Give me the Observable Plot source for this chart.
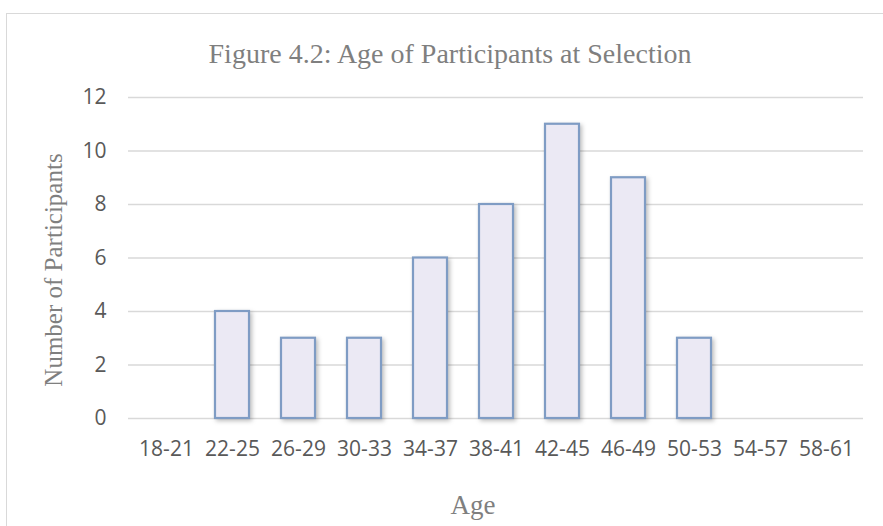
<!DOCTYPE html>
<html>
<head>
<meta charset="utf-8">
<script src="https://cdn.jsdelivr.net/npm/d3@7"></script>
<script src="https://cdn.jsdelivr.net/npm/@observablehq/plot@0.6"></script>
<style>
  html, body { margin: 0; padding: 0; background: #fff; }
  #wrap { position: relative; width: 883px; height: 526px; overflow: hidden; }
  #frame { position: absolute; left: 6px; top: 13px; width: 900px; height: 540px; border: 1px solid #d9d9d9; box-sizing: border-box; }
  .lbl { position: absolute; font-family: "Liberation Serif", "Times New Roman", serif; color: #7f7f7f; white-space: nowrap; line-height: 1; }
  #title { left: 0; width: 900px; top: 40px; text-align: center; font-size: 28px; }
  #ylab { left: 53px; top: 270px; font-size: 25px; transform: translate(-50%, -50%) rotate(-90deg); }
  #xlab { left: 473px; top: 492px; font-size: 27px; transform: translate(-50%, 0); }
  #chart { position: absolute; left: 0; top: 0; }
</style>
</head>
<body>
<div id="wrap">
  <div id="frame"></div>
  <div id="chart"></div>
  <div class="lbl" id="title">Figure 4.2: Age of Participants at Selection</div>
  <div class="lbl" id="ylab">Number of Participants</div>
  <div class="lbl" id="xlab">Age</div>
</div>
<script>
const ageGroups = ["18-21","22-25","26-29","30-33","34-37","38-41","42-45","46-49","50-53","54-57","58-61"];
const participants = [0, 4, 3, 3, 6, 8, 11, 9, 3, 0, 0];
const yTicks = [0, 2, 4, 6, 8, 10, 12];

const data = ageGroups.map((g, i) => ({group: g, count: participants[i]}));

const plot = Plot.plot({
  width: 883,
  height: 526,
  marginLeft: 128,
  marginRight: 20,
  marginTop: 97,
  marginBottom: 108,
  style: {background: "transparent", fontFamily: "'Open Sans', sans-serif", fontSize: "21px", color: "#595959", overflow: "visible"},
  x: {domain: ageGroups, paddingInner: 0.49, paddingOuter: 0.245, label: null, tickSize: 0, tickPadding: 23},
  y: {domain: [0, 12], ticks: yTicks, label: null, tickSize: 0, tickPadding: 22, tickFormat: d3.format("d")},
  marks: [
    Plot.ruleY(yTicks, {stroke: "#d9d9d9", strokeWidth: 1.3}),
    Plot.barY(data.filter(d => d.count > 0), {x: "group", y: "count", fill: "#ebe9f4", stroke: "#7f9cc4", strokeWidth: 2.2})
  ]
});
plot.querySelectorAll("g[aria-label='bar'] rect").forEach(r => r.style.filter = "drop-shadow(2px 2px 2px rgba(0,0,0,0.25))");
plot.querySelectorAll("g[aria-label='x-axis tick label'] text, g[aria-label='y-axis tick label'] text").forEach(t => t.setAttribute("fill", "#595959"));
document.getElementById("chart").appendChild(plot);
</script>
</body>
</html>
